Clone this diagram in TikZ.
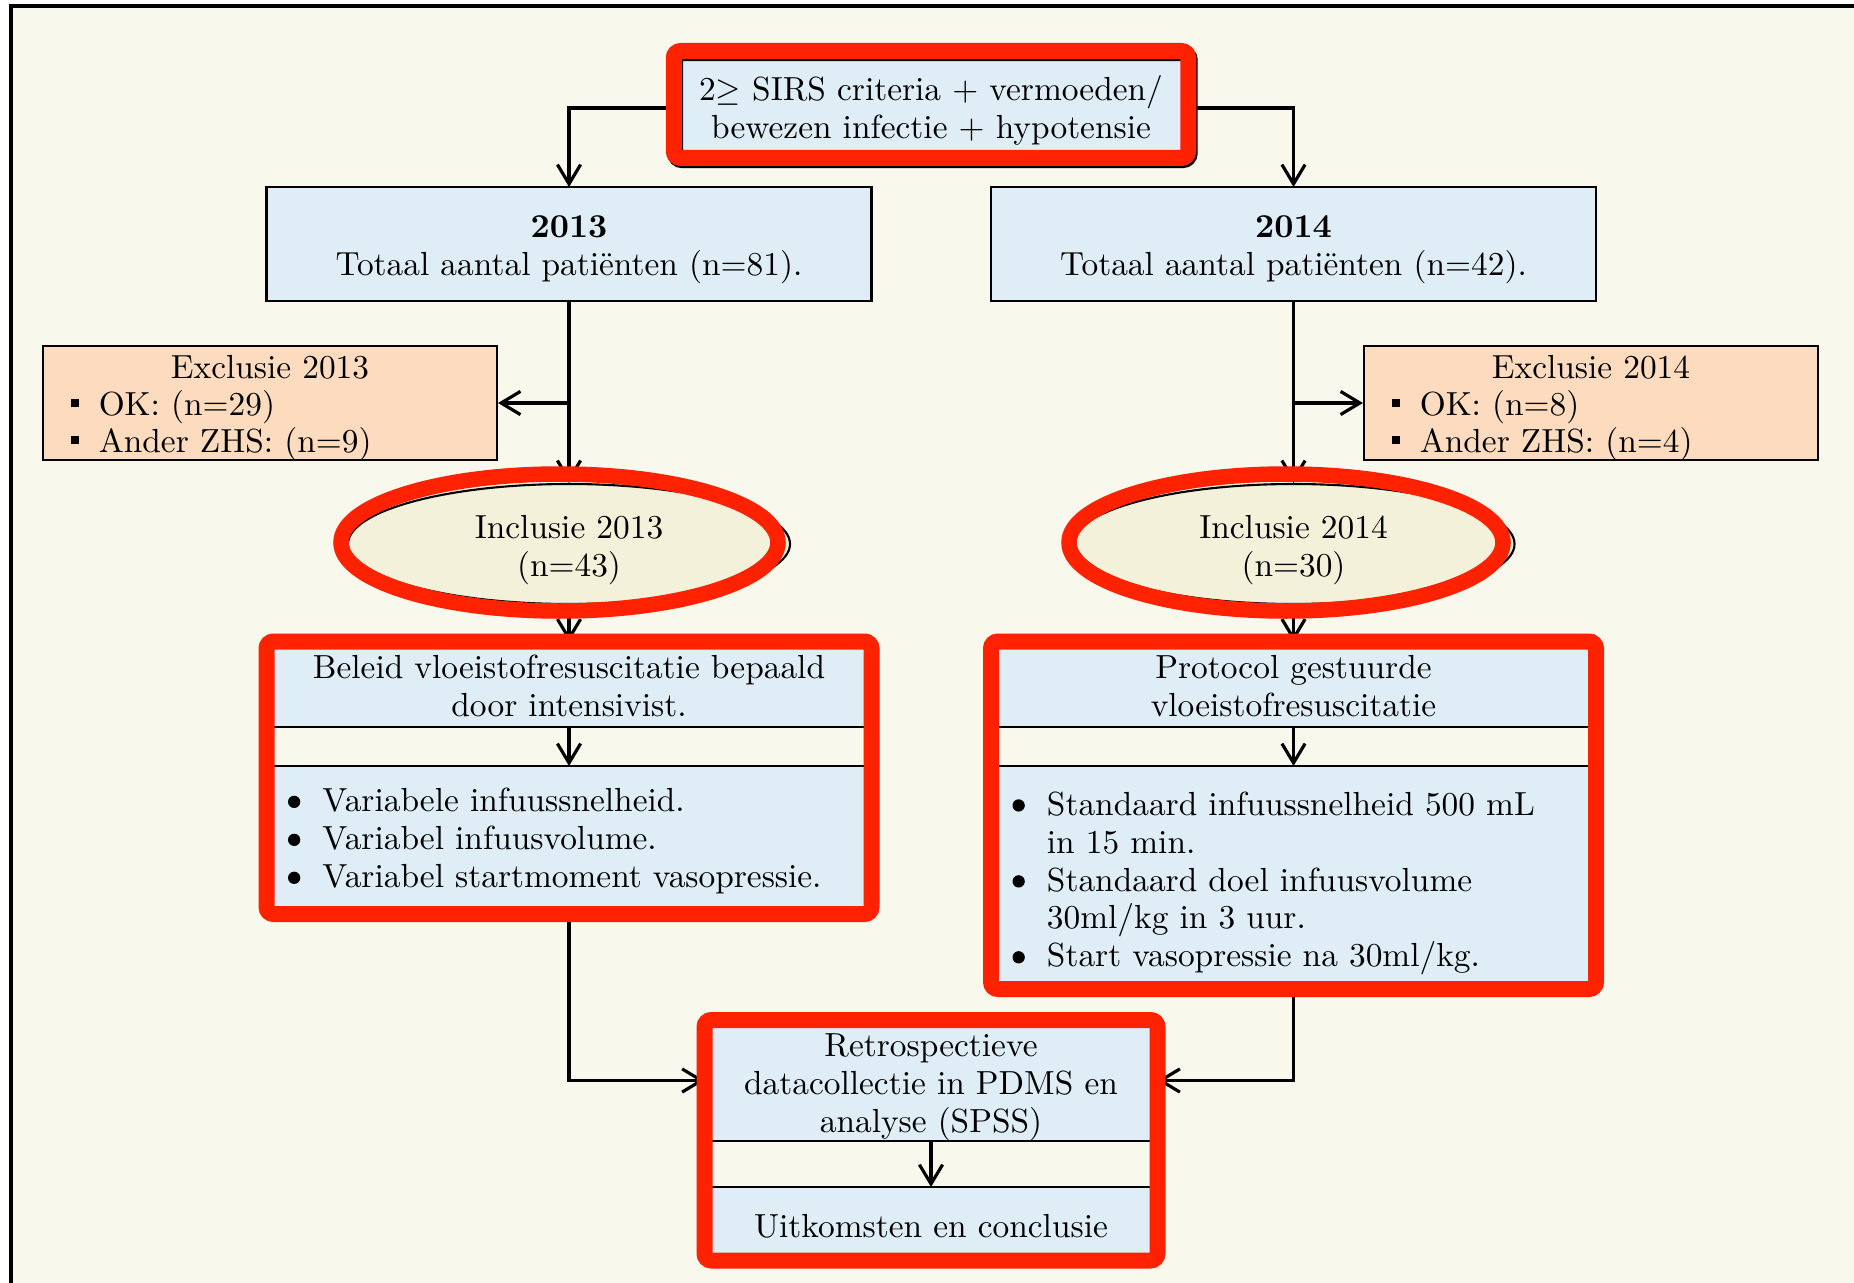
\documentclass[tikz,border=0pt]{standalone}
\usepackage{fontspec}
\usepackage{tikz}
\usetikzlibrary{positioning, calc, shapes.geometric, arrows.meta, fit}

\definecolor{pageBg}{RGB}{249, 248, 237}
\definecolor{boxBlue}{RGB}{223, 238, 246}
\definecolor{exclPeach}{RGB}{252, 219, 191}
\definecolor{inclCream}{RGB}{243, 241, 218}
\definecolor{markRed}{RGB}{255, 34, 0}

\newcommand{\flowfont}{\fontsize{9.5}{10.8}\selectfont}
\newcommand{\exclfont}{\fontsize{9.5}{10.5}\selectfont}
\newcommand{\hs}[1][10.2pt]{\rule{0pt}{#1}}
\newcommand{\sqitem}{\rule[2.2pt]{2.4pt}{2.4pt}\hspace{5.5pt}}
\newcommand{\dotitem}{\makebox[9.8pt][l]{\tikz[baseline=-2.75pt]\fill (0,0) circle (1.75pt);}}
\newcommand{\dotindent}{\hspace*{9.8pt}}

\begin{document}
\begin{tikzpicture}[
    txt/.style={font=\flowfont, execute at end node={\rule[-2.5pt]{0pt}{2.5pt}}},
    box/.style={txt, rectangle, draw=black, line width=0.6pt, fill=boxBlue,
                inner sep=0pt, outer sep=0pt, align=center},
    exclbox/.style={rectangle, draw=black, line width=0.6pt, fill=exclPeach,
                    minimum width=4.54cm, minimum height=1.14cm, inner sep=0pt,
                    text width=3.98cm, align=left, font=\exclfont,
                    execute at end node={\rule[-2pt]{0pt}{2pt}}},
    inclnode/.style={txt, ellipse, draw=black, line width=0.6pt, fill=inclCream,
                     minimum width=4.42cm, minimum height=1.2cm, inner sep=0pt,
                     align=center},
    hilite/.style={draw=markRed, line width=0.16cm, rounded corners=0.07cm,
                   inner sep=0pt},
    ring/.style={draw=markRed, line width=0.155cm},
    arrow/.style={-{Straight Barb[length=5.5pt,width=6.6pt]}, line width=0.9pt},
  ]
    \useasboundingbox (0,0) rectangle (18.54,-12.82);

    % frame
    \begin{scope}
      \clip (0,0) rectangle (18.54,-12.82);
      \draw[line width=1.1pt, fill=pageBg] (0.11,-0.06) rectangle (19,-13.3);
    \end{scope}

    % start
    \node[box, minimum width=5.145cm, minimum height=1.07cm] (SIRS) at (9.31,-1.045)
      {\hs[11pt]2$\geq$ SIRS criteria + vermoeden/\\bewezen infectie + hypotensie};

    % years
    \node[box, minimum width=6.05cm, minimum height=1.14cm] (Y13) at (5.69,-2.44)
      {\hs[9.6pt]\textbf{2013}\\Totaal aantal patiënten (n=81).};
    \node[box, minimum width=6.05cm, minimum height=1.14cm] (Y14) at (12.935,-2.44)
      {\hs[9.6pt]\textbf{2014}\\Totaal aantal patiënten (n=42).};

    \node[exclbox] (EX13) at (2.70,-4.03)
      {\hs[9.3pt]\makebox[\linewidth]{Exclusie 2013}\\\sqitem OK: (n=29)\\\sqitem Ander ZHS: (n=9)};
    \node[exclbox] (EX14) at (15.91,-4.03)
      {\hs[9.3pt]\makebox[\linewidth]{Exclusie 2014}\\\sqitem OK: (n=8)\\\sqitem Ander ZHS: (n=4)};

    \node[inclnode] (INC13) at (5.69,-5.44) {\hs Inclusie 2013\\(n=43)};
    \node[inclnode] (INC14) at (12.935,-5.44) {\hs Inclusie 2014\\(n=30)};

    % fluid policy
    \node[box, minimum width=6.05cm, minimum height=0.855cm] (B13top) at (5.69,-6.8425)
      {\hs Beleid vloeistofresuscitatie bepaald\\door intensivist.};
    \node[box, minimum width=6.05cm, minimum height=1.48cm, text width=5.62cm,
          align=left, below=0.39cm of B13top] (B13bot)
      {\hs[7.9pt]\dotitem Variabele infuussnelheid.\\\dotitem Variabel infuusvolume.\\
       \dotitem Variabel startmoment vasopressie.};

    \node[box, minimum width=6.05cm, minimum height=0.855cm] (P14top) at (12.935,-6.8425)
      {\hs Protocol gestuurde\\vloeistofresuscitatie};
    \node[box, minimum width=6.05cm, minimum height=2.23cm, text width=5.62cm,
          align=left, below=0.39cm of P14top] (P14bot)
      {\hs\dotitem Standaard infuussnelheid 500 mL\\\dotindent in 15 min.\\
       \dotitem Standaard doel infuusvolume\\\dotindent 30ml/kg in 3 uur.\\
       \dotitem Start vasopressie na 30ml/kg.};

    % analysis
    \node[box, minimum width=4.53cm, minimum height=1.21cm] (REStop) at (9.31,-10.805)
      {\hs Retrospectieve\\datacollectie in PDMS en\\analyse (SPSS)};
    \node[box, minimum width=4.53cm, minimum height=0.735cm,
          below=0.46cm of REStop] (RESbot) {\hs Uitkomsten en conclusie};

    % connectors
    \draw[arrow] ([yshift=-1pt]SIRS.west) -| (Y13.north);
    \draw[arrow] ([yshift=-1pt]SIRS.east) -| (Y14.north);
    \draw[arrow] (Y13) -- (INC13);
    \draw[arrow] (Y14) -- (INC14);
    \draw[arrow] (Y13.south |- EX13) -- (EX13);
    \draw[arrow] (Y14.south |- EX14) -- (EX14);
    \draw[arrow] (INC13) -- (B13top);
    \draw[arrow] (INC14) -- (P14top);
    \draw[arrow] (B13top) -- (B13bot);
    \draw[arrow] (P14top) -- (P14bot);
    \draw[arrow] (B13bot.south) |- (REStop.west);
    \draw[arrow] (P14bot.south) |- (REStop.east);
    \draw[arrow] (REStop) -- (RESbot);

    % red marks
    \node[hilite, fit=(SIRS),
          preaction={draw=black, line width=0.16cm,
                     transform canvas={shift={(0.4pt,-0.6pt)}}}] (SIRS_MK) {};
    \node[hilite, fit=(B13top)(B13bot)] (B13_MK) {};
    \node[hilite, fit=(P14top)(P14bot)] (P14_MK) {};
    \node[hilite, fit=(REStop)(RESbot)] (RES_MK) {};
    \draw[ring] ($(INC13.center)+(-0.095,0.015)$) ellipse [x radius=2.185cm, y radius=0.685cm];
    \draw[ring] ($(INC14.center)+(-0.075,0.015)$) ellipse [x radius=2.17cm, y radius=0.685cm];
  \end{tikzpicture}
\end{document}
